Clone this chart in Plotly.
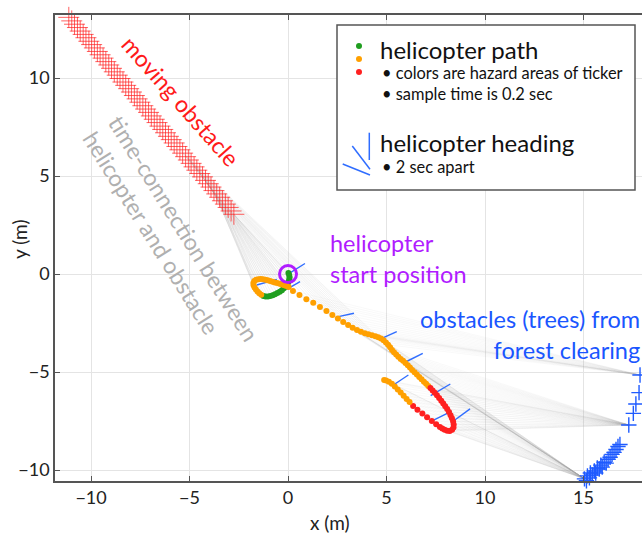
import plotly.graph_objects as go

# ---------------- data ----------------
# helicopter path samples (0.2 s apart)
heli_x = [0.02, 0.06, 0.08, 0.06, 0.02, -0.04, -0.12, -0.21, -0.31, -0.42, -0.54, -0.66, -0.78, -0.90, -1.02, -1.14, -1.25,
          -1.36, -1.46, -1.55, -1.63, -1.70, -1.75, -1.76, -1.71, -1.62, -1.51, -1.39, -1.27, -1.15, -1.03, -0.91, -0.79,
          -0.67, -0.55, -0.43, -0.31, -0.19, -0.08, 0.03,
          0.25, 0.58, 0.93, 1.28, 1.62, 1.95, 2.25, 2.53, 2.80, 3.05, 3.28, 3.50, 3.70, 3.90, 4.08, 4.26, 4.43, 4.58, 4.72,
          4.85, 4.97, 5.08, 5.18, 5.28, 5.38, 5.49, 5.60, 5.72, 5.84, 5.96, 6.08, 6.19, 6.30, 6.42, 6.54, 6.66, 6.78, 6.90,
          7.01, 7.12,
          7.23, 7.34, 7.45, 7.56, 7.67, 7.78, 7.88, 7.98, 8.08, 8.17, 8.25, 8.32, 8.38, 8.41, 8.40, 8.33, 8.21, 8.08, 7.95,
          7.83, 7.71,
          7.52, 7.30, 7.06, 6.82, 6.57, 6.35,
          6.17, 6.02, 5.87, 5.72, 5.57, 5.42, 5.27, 5.12, 4.98, 4.88]
heli_y = [0.05, -0.05, -0.16, -0.28, -0.40, -0.52, -0.63, -0.73, -0.82, -0.90, -0.97, -1.03, -1.08, -1.12, -1.14, -1.14, -1.12,
          -1.06, -0.98, -0.89, -0.79, -0.68, -0.57, -0.46, -0.36, -0.29, -0.26, -0.25, -0.27, -0.29, -0.32, -0.36, -0.39,
          -0.43, -0.46, -0.50, -0.53, -0.57, -0.61, -0.66,
          -0.86, -1.07, -1.28, -1.47, -1.68, -1.89, -2.09, -2.27, -2.44, -2.60, -2.74, -2.86, -2.95, -3.02, -3.07, -3.12,
          -3.17, -3.22, -3.29,
          -3.38, -3.49, -3.61, -3.74, -3.87, -3.99, -4.11, -4.22, -4.33, -4.43, -4.54, -4.65, -4.77, -4.89, -5.01, -5.13,
          -5.25, -5.37, -5.49, -5.60, -5.71,
          -5.82, -5.94, -6.06, -6.19, -6.32, -6.46, -6.60, -6.74, -6.89, -7.04, -7.20, -7.36, -7.52, -7.68, -7.83, -7.95,
          -8.01, -8.00, -7.95, -7.88, -7.80,
          -7.67, -7.50, -7.31, -7.12, -6.93, -6.73,
          -6.53, -6.37, -6.21, -6.05, -5.89, -5.74, -5.60, -5.50, -5.43, -5.40]
# hazard class of every sample: 0 = green, 1 = orange, 2 = red
heli_hazard = [0] * 17 + [1] * 63 + [2] * 27 + [1] * 10

# helicopter heading marks (every 2 s): start point and heading vector (m)
head_x = [0.00, -1.59, -0.07, 2.56, 4.76, 5.94, 5.35, 7.24, 7.29, 8.40]
head_y = [0.00, -0.56, -0.78, -2.17, -3.28, -4.50, -5.66, -6.20, -7.50, -7.50]
head_u = [0.86, 1.02, 0.68, 0.79, 0.76, 0.90, 0.76, 1.00, 1.02, 0.84]
head_v = [0.54, 0.29, 0.39, 0.17, 0.34, 0.45, 0.51, 0.59, 0.50, 0.62]

# moving obstacle trail (from its end near the helicopter back up to the top-left)
obs_x = [-2.75, -2.89, -3.04, -3.18, -3.33, -3.47, -3.62, -3.76, -3.91, -4.05, -4.19, -4.34, -4.48, -4.63, -4.77,
         -4.92, -5.06, -5.20, -5.35, -5.49, -5.64, -5.78, -5.93, -6.07, -6.22, -6.36, -6.50, -6.65, -6.79, -6.94,
         -7.08, -7.23, -7.37, -7.52, -7.66, -7.80, -7.95, -8.09, -8.24, -8.38, -8.53, -8.67, -8.82, -8.96, -9.10,
         -9.25, -9.39, -9.54, -9.68, -9.83, -9.97, -10.11, -10.26, -10.40, -10.55, -10.69, -10.84, -10.98, -11.13, -11.27]
obs_y = [3.05, 3.22, 3.40, 3.57, 3.74, 3.92, 4.09, 4.26, 4.44, 4.61, 4.78, 4.96, 5.13, 5.30, 5.47,
         5.65, 5.82, 5.99, 6.17, 6.34, 6.51, 6.69, 6.86, 7.03, 7.21, 7.38, 7.55, 7.73, 7.90, 8.07,
         8.25, 8.42, 8.59, 8.77, 8.94, 9.11, 9.29, 9.46, 9.63, 9.80, 9.98, 10.15, 10.32, 10.50, 10.67,
         10.84, 11.02, 11.19, 11.36, 11.54, 11.71, 11.88, 12.06, 12.23, 12.40, 12.58, 12.75, 12.92, 13.10, 13.27]

# trees of the forest clearing (visible part)
tree_x = [15.00, 15.05, 15.15, 15.20, 15.30, 15.35, 15.45, 15.55, 15.62, 15.70, 15.80, 15.88, 15.95, 16.05, 16.15,
          16.25, 16.35, 16.45, 16.55, 16.65, 16.75, 16.85, 17.30, 17.53, 17.66, 17.82, 17.87]
tree_y = [-10.65, -10.45, -10.55, -10.30, -10.40, -10.15, -10.25, -10.05, -10.15, -9.90, -9.95, -9.75, -9.85, -9.60,
          -9.65, -9.45, -9.35, -9.20, -9.10, -8.95, -8.80, -8.70, -7.70, -7.11, -6.63, -6.05, -5.15]

hazard_colors = ["#1f9e1f", "#ffa000", "#ff2020"]
OBS_LINK_COUNT = 58     # samples connected to the moving obstacle
TREE_LINK_START = 40    # first sample connected to trees
UPPER_TREES = 5         # the sparse trees at the right edge

# ---------------- figure ----------------
W, H = 642, 536
ML, MR, MT, MB = 55, 0, 15, 55
PW, PH = W - ML - MR, H - MT - MB


def P(px, py):
    return (px - ML) / PW, (H - MB - py) / PH


fig = go.Figure()

# time connections helicopter <-> obstacle
lx, ly = [], []
for i in range(OBS_LINK_COUNT):
    j = i // 3
    lx += [heli_x[i], obs_x[j], None]
    ly += [heli_y[i], obs_y[j], None]
fig.add_trace(go.Scatter(x=lx, y=ly, mode="lines", line=dict(color="rgba(170,170,170,0.22)", width=0.6),
                         hoverinfo="skip"))

# helicopter <-> trees
tx, ty = [], []
n_tree = len(tree_x)
upper = list(range(n_tree - UPPER_TREES, n_tree))
for i in range(TREE_LINK_START, len(heli_x)):
    d = [(tree_x[k] - heli_x[i]) ** 2 + (tree_y[k] - heli_y[i]) ** 2 for k in range(n_tree)]
    near = min(range(n_tree), key=lambda k: d[k])
    near_up = min(upper, key=lambda k: d[k])
    for k in {near, near_up}:
        tx += [heli_x[i], tree_x[k], None]
        ty += [heli_y[i], tree_y[k], None]
fig.add_trace(go.Scatter(x=tx, y=ty, mode="lines", line=dict(color="rgba(170,170,170,0.12)", width=0.6),
                         hoverinfo="skip"))

# moving obstacle
fig.add_trace(go.Scatter(x=obs_x, y=obs_y, mode="markers", cliponaxis=False,
                         marker=dict(symbol="cross-thin", size=15, line=dict(color="rgba(255,30,30,0.7)", width=1))))

# trees
fig.add_trace(go.Scatter(x=tree_x, y=tree_y, mode="markers", cliponaxis=False,
                         marker=dict(symbol="cross-thin", size=11, line=dict(color="#1f5bff", width=1.4))))

# heading marks
hx, hy = [], []
for x0, y0, u, v in zip(head_x, head_y, head_u, head_v):
    hx += [x0, x0 + u, None]
    hy += [y0, y0 + v, None]
fig.add_trace(go.Scatter(x=hx, y=hy, mode="lines", line=dict(color="#2f6dff", width=1.4)))

# helicopter path
fig.add_trace(go.Scatter(x=heli_x, y=heli_y, mode="markers",
                         marker=dict(size=6, color=[hazard_colors[c] for c in heli_hazard], line=dict(width=0))))

# start position circle
fig.add_trace(go.Scatter(x=[heli_x[0] - 0.02], y=[0.0], mode="markers",
                         marker=dict(symbol="circle-open", size=17, color="#b01cff",
                                     line=dict(color="#b01cff", width=3))))

shapes = []
x0, y1 = P(337, 25)
x1, y0 = P(635, 190)
shapes.append(dict(type="rect", xref="paper", yref="paper", x0=x0, x1=x1, y0=y0, y1=y1,
                   line=dict(color="#555555", width=1.5), fillcolor="white", layer="above"))
for (px, py), col in zip([(359, 46), (359, 59), (359, 72)], hazard_colors):
    cx, cy = P(px, py)
    shapes.append(dict(type="circle", xref="paper", yref="paper", xsizemode="pixel", ysizemode="pixel",
                       xanchor=cx, yanchor=cy, x0=-3, x1=3, y0=-3, y1=3, fillcolor=col, line=dict(width=0)))
for (a, b) in [((369.3, 132.7), (369.3, 160)), ((352.3, 146), (370, 169.3)), ((342.7, 164), (370, 175))]:
    ax_, ay_ = P(*a)
    bx_, by_ = P(*b)
    shapes.append(dict(type="line", xref="paper", yref="paper", x0=ax_, y0=ay_, x1=bx_, y1=by_,
                       line=dict(color="#2f6dff", width=1.5)))

ann = []


def text(s, px, py, size, color, xanchor="left", angle=0, align="left", yanchor="middle"):
    x, y = P(px, py)
    ann.append(dict(text=s, x=x, y=y, xref="paper", yref="paper", showarrow=False, xanchor=xanchor,
                    yanchor=yanchor, textangle=angle, align=align, font=dict(size=size, color=color)))


text("helicopter path", 378, 50, 24, "#111111")
text("• colors are hazard areas of ticker", 380, 72, 16.4, "#111111")
text("• sample time is 0.2 sec", 380, 94, 16.4, "#111111")
text("helicopter heading", 378, 142, 24, "#111111")
text("• 2 sec apart", 380, 166, 16.4, "#111111")
text("moving obstacle", 181, 101, 23, "#ff1a1a", xanchor="center", angle=48.6, align="center")
text("time-connection between<br>helicopter and obstacle", 171, 236, 23, "#b0b0b0",
     xanchor="center", angle=58, align="left")
text("helicopter<br>start position", 328, 258, 23.5, "#b01cff")
text("obstacles (trees) from<br>forest clearing", 642, 334, 23.5, "#1a56ff", xanchor="right", align="right")
text("x (m)", 330, 522, 19, "#222222", xanchor="center")
text("y (m)", 19, 240, 19, "#222222", xanchor="center", angle=-90)

axis_common = dict(showgrid=True, gridcolor="#e4e4e4", gridwidth=1, zeroline=False, showline=True,
                   linecolor="#555555", linewidth=1.5, ticks="inside", ticklen=5, tickcolor="#555555",
                   tickfont=dict(size=18, color="#222222"))

fig.update_layout(
    width=W, height=H, margin=dict(l=ML, r=MR, t=MT, b=MB),
    paper_bgcolor="white", plot_bgcolor="white", showlegend=False,
    font=dict(family="Lato, 'Open Sans', sans-serif"),
    xaxis=dict(range=[-11.83, 17.97], tickvals=[-10, -5, 0, 5, 10, 15], mirror="ticks", **axis_common),
    yaxis=dict(range=[-10.56, 13.22], tickvals=[-10, -5, 0, 5, 10], **axis_common),
    shapes=shapes, annotations=ann,
)

fig.write_html("out.html")
